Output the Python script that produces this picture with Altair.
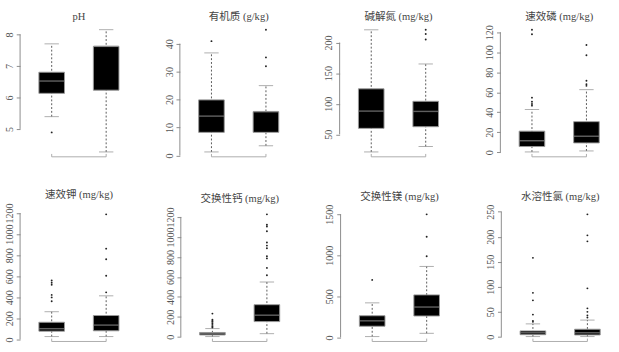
import altair as alt
import pandas as pd

titles = ["pH", "有机质 (g/kg)", "碱解氮 (mg/kg)", "速效磷 (mg/kg)",
          "速效钾 (mg/kg)", "交换性钙 (mg/kg)", "交换性镁 (mg/kg)", "水溶性氯 (mg/kg)"]
tick_values = [
    [5, 6, 7, 8],
    [0, 10, 20, 30, 40],
    [50, 100, 150, 200],
    [0, 20, 40, 60, 80, 100, 120],
    [0, 200, 400, 600, 800, 1000, 1200],
    [0, 200, 400, 600, 800, 1000, 1200],
    [0, 500, 1000, 1500],
    [0, 50, 100, 150, 200, 250],
]
box_q1 = [[6.13, 6.23], [8.3, 8.3], [59.8, 62.5], [5.7, 9.3], [78, 82], [19, 153], [136, 261], [4.4, 3.8]]
box_med = [[6.52, 7.62], [14.1, 15.7], [88, 87.5], [11.5, 16], [102, 136], [32, 217], [202, 370], [8.2, 8.2]]
box_q3 = [[6.8, 7.62], [19.9, 15.7], [124.4, 104], [21.1, 30.6], [163, 227], [44, 322], [264, 518], [12, 15.3]]
whisk_lo = [[5.39, 4.27], [1.3, 3.5], [21.3, 30.2], [0.3, 1.3], [27, 27], [3, 32], [10, 50], [0.6, 0.6]]
whisk_hi = [[7.7, 8.15], [36.7, 25.0], [220.8, 165], [42.8, 62.6], [263, 414], [83, 549], [421, 865], [26, 33.6]]
outliers = [
    [[4.89], []],
    [[40.9], [31.9, 35.1, 45.0]],
    [[], [205, 214, 221]],
    [[46.6, 48.2, 50.5, 54.6, 118.1, 122.6], [66.4, 68, 71.5, 97, 107.3]],
    [[363, 399, 423, 520, 538, 559], [447, 604, 762, 862, 1188]],
    [[95, 105, 120, 135, 150, 160, 172, 233],
     [616, 690, 785, 807, 887, 913, 944, 1056, 1104, 1121, 1226]],
    [[701], [989, 1227, 1500]],
    [[30, 32, 44.5, 73, 88, 158], [38.7, 43, 50, 57, 97, 191, 203, 245]],
]

FONT = "Liberation Serif, Noto Sans CJK SC"
W, H = 123, 138


def panel(i):
    box = pd.DataFrame({"g": [1, 2], "q1": box_q1[i], "med": box_med[i], "q3": box_q3[i],
                        "lo": whisk_lo[i], "hi": whisk_hi[i]})
    pts = pd.DataFrame([{"g": g + 1, "v": v} for g in range(2) for v in outliers[i][g]],
                       columns=["g", "v"])
    allv = whisk_lo[i] + whisk_hi[i] + [v for grp in outliers[i] for v in grp]
    mn, mx = min(allv), max(allv)
    r = mx - mn
    xs = alt.Scale(domain=[0.42, 2.58])
    ys = alt.Scale(domain=[mn - 0.04 * r, mx + 0.04 * r], nice=False, zero=False)
    yax = alt.Axis(values=tick_values[i], format="d", labelAngle=270, labelFont="Liberation Serif",
                   labelFontSize=10.5, labelColor="#555", tickColor="#888", tickSize=4,
                   labelPadding=2, domain=False, grid=False, title=None, labelOverlap=False)
    X = alt.X("g:Q", scale=xs, axis=None)
    base = alt.Chart(box)
    whisk = base.mark_rule(color="#555", strokeDash=[2, 2], strokeWidth=1).encode(
        x=X, y=alt.Y("lo:Q", scale=ys, axis=yax), y2="hi:Q")
    cap_lo = base.mark_tick(orient="horizontal", size=15, thickness=1, color="#888").encode(
        x=X, y=alt.Y("lo:Q", scale=ys, axis=yax))
    cap_hi = base.mark_tick(orient="horizontal", size=15, thickness=1, color="#888").encode(
        x=X, y=alt.Y("hi:Q", scale=ys, axis=yax))
    boxes = base.transform_calculate(x1="datum.g - 0.235", x2="datum.g + 0.235").mark_rect(
        fill="black", stroke="#999", strokeWidth=1).encode(
        x=alt.X("x1:Q", scale=xs, axis=None), x2="x2:Q",
        y=alt.Y("q1:Q", scale=ys, axis=yax), y2="q3:Q")
    meds = base.mark_tick(orient="horizontal", size=26, thickness=1.5, color="#888").encode(
        x=X, y=alt.Y("med:Q", scale=ys, axis=yax))
    dots = alt.Chart(pts).mark_circle(size=4, color="#222", opacity=1).encode(
        x=X, y=alt.Y("v:Q", scale=ys, axis=yax))
    yline = alt.Chart(pd.DataFrame({"a": [tick_values[i][0]], "b": [tick_values[i][-1]]})).mark_rule(
        color="#888").encode(x=alt.value(0), y=alt.Y("a:Q", scale=ys, axis=yax), y2="b:Q")
    xline = alt.Chart(pd.DataFrame({"a": [1], "b": [2]})).mark_rule(color="#aaa").encode(
        x=alt.X("a:Q", scale=xs, axis=None), x2="b:Q", y=alt.value(H))
    xticks = alt.Chart(pd.DataFrame({"a": [1, 2]})).mark_rule(color="#aaa").encode(
        x=alt.X("a:Q", scale=xs, axis=None), y=alt.value(H - 3), y2=alt.value(H))
    return alt.layer(whisk, cap_lo, cap_hi, boxes, meds, dots, yline, xline, xticks).properties(
        width=W, height=H,
        title=alt.TitleParams(titles[i], font=FONT, fontSize=11, fontWeight="normal",
                              color="#444", offset=3, anchor="middle"))


top = alt.hconcat(*[panel(i) for i in range(4)], spacing=28)
bottom = alt.hconcat(*[panel(i) for i in range(4, 8)], spacing=28)
chart = alt.vconcat(top, bottom, spacing=32).properties(
    padding={"left": 5, "top": 3, "right": 0, "bottom": 0}
).configure_view(stroke=None)

chart.save("out.html", embed_options={"renderer": "svg", "actions": False})
